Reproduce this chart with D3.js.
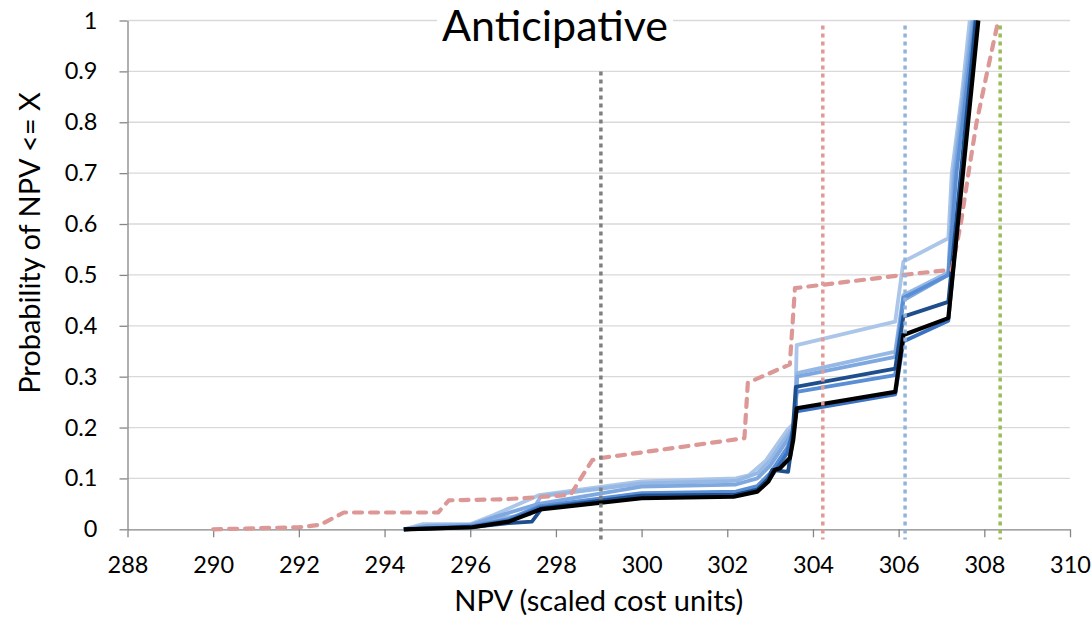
<!DOCTYPE html>
<html>
<head>
<meta charset="utf-8">
<script src="https://cdn.jsdelivr.net/npm/d3@7"></script>
<style>
  html, body { margin: 0; padding: 0; background: #fff; }
  text { font-family: Lato, "Open Sans", sans-serif; fill: #000; }
</style>
</head>
<body>
<svg id="chart" width="1091" height="620"></svg>
<script>
// ---------- data ----------
const title = "Anticipative";
const xLabel = "NPV (scaled cost units)";
const yLabel = "Probability of NPV <= X";
const xTicks = [288, 290, 292, 294, 296, 298, 300, 302, 304, 306, 308, 310];
const yTicks = [0, 0.1, 0.2, 0.3, 0.4, 0.5, 0.6, 0.7, 0.8, 0.9, 1];

const seriesVeryLight = [[294.45,0],[294.9,0.01],[296.0,0.01],[296.55,0.028],[297.6,0.067],[299.0,0.083],[300.0,0.094],[302.2,0.1],[302.5,0.106],[302.9,0.135],[303.4,0.195],[303.58,0.21],[303.62,0.362],[305.92,0.408],[306.11,0.526],[307.16,0.572],[307.24,0.7],[307.47,0.85],[307.66,1.0]];
const seriesLightA = [[294.45,0],[295.0,0.007],[296.0,0.009],[296.6,0.02],[297.4,0.03],[297.65,0.065],[300.0,0.09],[302.2,0.095],[302.7,0.11],[303.0,0.135],[303.4,0.185],[303.58,0.205],[303.63,0.307],[305.92,0.349],[306.11,0.46],[307.16,0.505],[307.28,0.7],[307.71,1.0]];
const seriesLightB = [[294.45,0],[295.0,0.006],[296.0,0.008],[296.6,0.025],[297.6,0.05],[300.0,0.084],[302.2,0.088],[302.7,0.1],[303.0,0.125],[303.4,0.175],[303.57,0.2],[303.63,0.30],[305.92,0.339],[306.11,0.45],[307.16,0.5],[307.31,0.7],[307.74,1.0]];
const seriesMid = [[294.45,0],[296.0,0.006],[296.9,0.02],[297.6,0.045],[300.0,0.071],[302.2,0.074],[302.7,0.085],[303.0,0.11],[303.4,0.16],[303.55,0.19],[303.62,0.27],[305.92,0.303],[306.11,0.455],[307.16,0.5],[307.35,0.7],[307.78,1.0]];
const seriesBlue = [[294.45,0],[296.0,0.005],[296.9,0.017],[297.6,0.042],[300.0,0.066],[302.2,0.066],[302.7,0.076],[303.0,0.1],[303.4,0.15],[303.55,0.2],[303.62,0.232],[305.92,0.265],[306.11,0.369],[307.16,0.41],[307.82,1.0]];
const seriesNavy = [[294.45,0],[296.0,0.004],[296.9,0.012],[297.44,0.015],[297.67,0.041],[300.0,0.066],[302.2,0.068],[302.7,0.078],[302.96,0.1],[303.05,0.117],[303.42,0.113],[303.5,0.16],[303.6,0.28],[305.92,0.316],[306.11,0.418],[307.16,0.447],[307.8,1.0]];
const seriesBlack = [[294.45,0],[296.05,0.004],[296.9,0.015],[297.63,0.039],[300.0,0.061],[302.15,0.064],[302.7,0.074],[302.96,0.094],[303.11,0.117],[303.23,0.12],[303.46,0.14],[303.54,0.176],[303.62,0.238],[305.92,0.27],[306.11,0.382],[307.16,0.415],[307.86,1.0]];
const seriesRedDashed = [[290,0],[291,0.002],[292,0.004],[292.5,0.009],[293.05,0.033],[295.25,0.033],[295.5,0.057],[296.8,0.059],[298.1,0.066],[298.35,0.069],[298.85,0.136],[299.05,0.14],[302.4,0.179],[302.48,0.288],[303.46,0.324],[303.58,0.474],[306.42,0.503],[307.24,0.51],[307.45,0.6],[307.63,0.7],[307.82,0.8],[308.07,0.9],[308.3,0.99]];

const vLineX = [299.05, 304.23, 306.15, 308.37];
const vLineTop = [0.9, 0.99, 0.99, 0.99];
const vLineBottom = -0.02;

// ---------- layout ----------
const svg = d3.select("#chart");
const mLeft = 127.5, mRight = 1070, mTop = 20.5, mBottom = 529.3;
const x = d3.scaleLinear().domain([288, 310]).range([mLeft, mRight]);
const y = d3.scaleLinear().domain([0, 1]).range([mBottom, mTop]);

// gridlines
svg.append("g").selectAll("line").data(yTicks.filter(d => d > 0)).join("line")
  .attr("x1", mLeft).attr("x2", mRight)
  .attr("y1", d => y(d)).attr("y2", d => y(d))
  .attr("stroke", "#d9d9d9").attr("stroke-width", 1.3);

// x axis
const xAxis = d3.axisBottom(x).tickValues(xTicks).tickFormat(d3.format("d")).tickSizeInner(8).tickSizeOuter(0).tickPadding(19);
const gx = svg.append("g").attr("transform", `translate(0,${mBottom})`).call(xAxis);
gx.select(".domain").attr("stroke", "#868686").attr("stroke-width", 1.3);
gx.selectAll(".tick line").attr("stroke", "#868686").attr("stroke-width", 1.3);
gx.selectAll(".tick text").attr("font-size", 23.5).attr("font-family", "Lato").attr("fill", "#000");

// y axis
const yAxis = d3.axisLeft(y).tickValues(yTicks).tickFormat(d => d === 0 || d === 1 ? String(d) : d3.format(".1f")(d)).tickSizeInner(8).tickSizeOuter(0).tickPadding(22);
const gy = svg.append("g").attr("transform", `translate(${mLeft},0)`).call(yAxis);
gy.select(".domain").attr("stroke", "#868686").attr("stroke-width", 1.3);
gy.selectAll(".tick line").attr("stroke", "#868686").attr("stroke-width", 1.3);
gy.selectAll(".tick text").attr("font-size", 23.5).attr("font-family", "Lato").attr("fill", "#000");

// lines
const line = d3.line().x(d => x(d[0])).y(d => y(d[1]));
const blueSeries = [
  { data: seriesVeryLight, color: "#abc6e8", w: 3.8 },
  { data: seriesLightA, color: "#95b8e4", w: 3.8 },
  { data: seriesLightB, color: "#7ea8df", w: 3.8 },
  { data: seriesMid, color: "#5a8fd6", w: 3.8 },
  { data: seriesBlue, color: "#3b72c0", w: 3.8 },
  { data: seriesNavy, color: "#1f4e8c", w: 3.8 }
];
const gLines = svg.append("g");
gLines.selectAll("path.blue").data(blueSeries).join("path")
  .attr("class", "blue")
  .attr("d", d => line(d.data))
  .attr("fill", "none").attr("stroke", d => d.color).attr("stroke-width", d => d.w)
  .attr("stroke-linejoin", "round");

gLines.append("path").attr("d", line(seriesRedDashed))
  .attr("fill", "none").attr("stroke", "#dc9896").attr("stroke-width", 4.2)
  .attr("stroke-dasharray", "8,8").attr("stroke-linecap", "round").attr("stroke-linejoin", "round");

gLines.append("path").attr("d", line(seriesBlack))
  .attr("fill", "none").attr("stroke", "#000").attr("stroke-width", 4.2)
  .attr("stroke-linejoin", "round");

// vertical dotted reference lines
const vColors = ["#7f7f7f", "#e09a98", "#94b3d9", "#9bbb59"];
svg.append("g").selectAll("line").data(vLineX).join("line")
  .attr("x1", d => x(d)).attr("x2", d => x(d))
  .attr("y1", (d, i) => y(vLineTop[i])).attr("y2", y(vLineBottom))
  .attr("stroke", (d, i) => vColors[i]).attr("stroke-width", 3.5)
  .attr("stroke-dasharray", "4,4");

// title with white background
svg.append("rect").attr("x", 437).attr("y", 6).attr("width", 236).attr("height", 42).attr("fill", "#fff");
svg.append("text").attr("x", 555).attr("y", 41).attr("text-anchor", "middle")
  .attr("font-size", 43).text(title);

// axis titles
svg.append("text").attr("x", (mLeft + mRight) / 2).attr("y", 611).attr("text-anchor", "middle")
  .attr("font-size", 29).text(xLabel);
svg.append("text").attr("transform", "translate(40,243) rotate(-90)").attr("text-anchor", "middle")
  .attr("font-size", 29).text(yLabel);
</script>
</body>
</html>
